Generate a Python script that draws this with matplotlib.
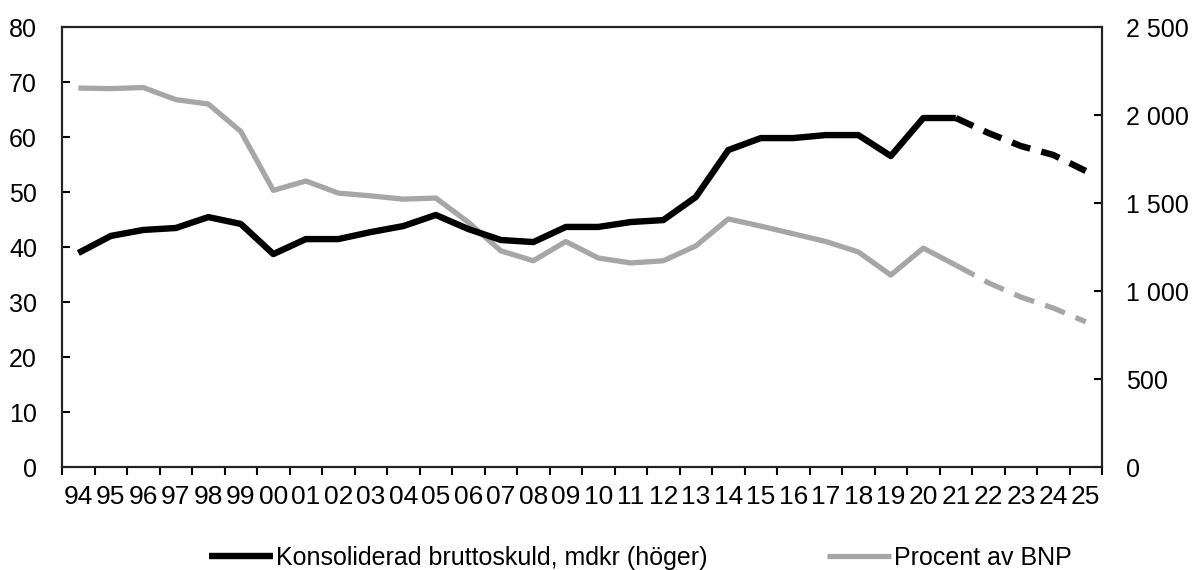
import matplotlib.pyplot as plt
from matplotlib.ticker import FuncFormatter
import numpy as np

plt.rcParams['font.family'] = ['Liberation Sans', 'DejaVu Sans']

years = ['94', '95', '96', '97', '98', '99', '00', '01', '02', '03', '04', '05', '06', '07',
         '08', '09', '10', '11', '12', '13', '14', '15', '16', '17', '18', '19', '20', '21',
         '22', '23', '24', '25']
skuld = [1216, 1313, 1347, 1358, 1420, 1381, 1210, 1295, 1295, 1335, 1369, 1432, 1352, 1290,
         1278, 1364, 1364, 1392, 1403, 1534, 1801, 1869, 1869, 1886, 1886, 1767, 1983, 1983,
         1898, 1824, 1773, 1682]
procent = [68.9, 68.8, 69.0, 66.8, 66.0, 61.0, 50.3, 52.0, 49.8, 49.3, 48.7, 48.9, 44.5, 39.3,
           37.5, 41.0, 38.0, 37.1, 37.5, 40.2, 45.1, 43.8, 42.4, 41.0, 39.1, 34.9, 39.8, 36.7,
           33.5, 30.9, 28.9, 26.4]
prognos_start = 27  # index of '21', dashed from here

x = np.arange(len(years))

fig = plt.figure(figsize=(11.94, 5.7), dpi=100)
ax = fig.add_axes([0.052, 0.1807, 0.871, 0.7719])
ax2 = ax.twinx()

ax.plot(x[:prognos_start + 1], procent[:prognos_start + 1], color='#a6a6a6', lw=3.8,
        solid_capstyle='butt')
ax.plot(x[prognos_start:], procent[prognos_start:], color='#a6a6a6', lw=3.8,
        dashes=(4, 2.2))
ax2.plot(x[:prognos_start + 1], skuld[:prognos_start + 1], color='black', lw=4.6,
         solid_capstyle='butt')
ax2.plot(x[prognos_start:], skuld[prognos_start:], color='black', lw=4.6,
         dashes=(3, 1.8))

ax.set_xlim(-0.5, len(years) - 0.5)
ax.set_ylim(0, 80)
ax2.set_ylim(0, 2500)
ax.set_yticks(range(0, 81, 10))
ax2.set_yticks(range(0, 2501, 500))
ax2.yaxis.set_major_formatter(FuncFormatter(lambda v, p: f'{int(v):,}'.replace(',', ' ')))

fs = 18
ax.set_xticks(x)
ax.set_xticklabels(years, family=['Liberation Sans Narrow', 'Liberation Sans'], fontsize=19)
ax.set_xticks(np.arange(-0.5, len(years), 1), minor=True)
ax.tick_params(axis='x', which='major', length=0, pad=13)
ax.tick_params(axis='x', which='minor', length=6, width=1.5, direction='out')
ax.tick_params(axis='y', direction='in', length=6, width=1.5, labelsize=fs, pad=18)
ax2.tick_params(axis='y', direction='in', length=6, width=1.5, labelsize=fs, pad=17)

for a in (ax, ax2):
    for s in a.spines.values():
        s.set_linewidth(1.5)
        s.set_color('#222222')

fig.legend(handles=ax2.get_lines()[:1] + ax.get_lines()[:1],
           labels=['Konsoliderad bruttoskuld, mdkr (höger)', 'Procent av BNP'],
           loc='center', bbox_to_anchor=(0.5365, 0.021), ncol=2, frameon=False,
           fontsize=18, handlelength=2.55, handletextpad=0.12, columnspacing=4.8)

fig.savefig('out.png', dpi=100)
